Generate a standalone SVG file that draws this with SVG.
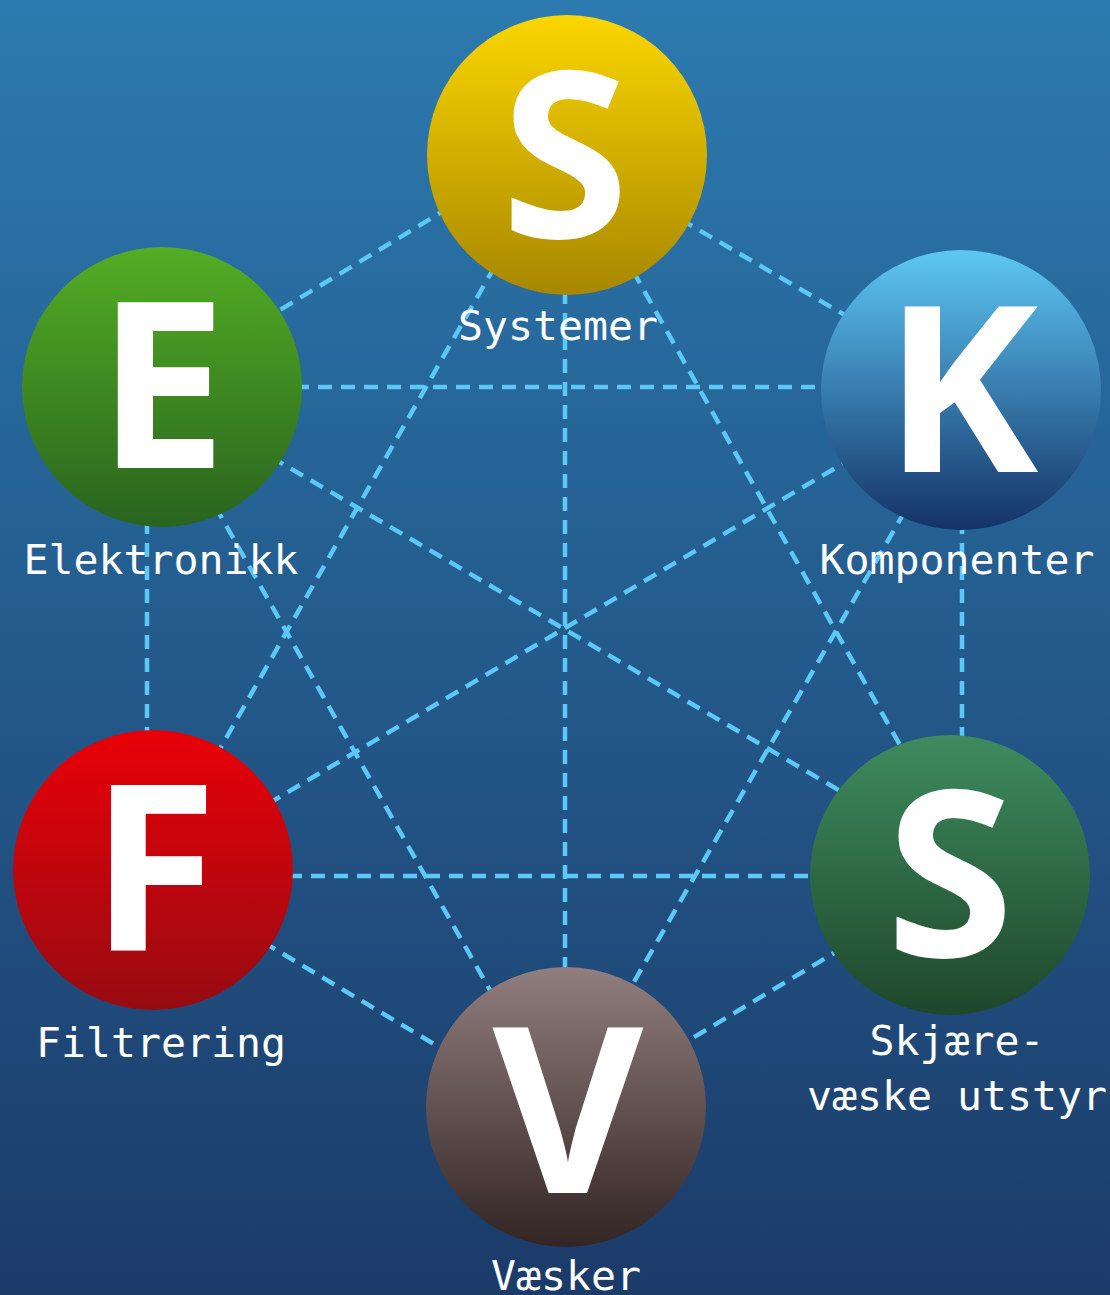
<svg xmlns="http://www.w3.org/2000/svg" width="1110" height="1295" viewBox="0 0 1110 1295">
<defs>
<linearGradient id="bg" x1="0" y1="0" x2="0" y2="1"><stop offset="0" stop-color="#2c7aaf"/><stop offset="1" stop-color="#1b3b69"/></linearGradient>
<linearGradient id="gS" x1="0" y1="0" x2="0" y2="1"><stop offset="0" stop-color="#fbd600"/><stop offset="1" stop-color="#a78700"/></linearGradient>
<linearGradient id="gE" x1="0" y1="0" x2="0" y2="1"><stop offset="0" stop-color="#53ad24"/><stop offset="1" stop-color="#29641f"/></linearGradient>
<linearGradient id="gK" x1="0" y1="0" x2="0" y2="1"><stop offset="0" stop-color="#5dc7f3"/><stop offset="1" stop-color="#143268"/></linearGradient>
<linearGradient id="gF" x1="0" y1="0" x2="0" y2="1"><stop offset="0" stop-color="#e90008"/><stop offset="1" stop-color="#970b12"/></linearGradient>
<linearGradient id="gG" x1="0" y1="0" x2="0" y2="1"><stop offset="0" stop-color="#3e8b5e"/><stop offset="1" stop-color="#1e472c"/></linearGradient>
<linearGradient id="gV" x1="0" y1="0" x2="0" y2="1"><stop offset="0" stop-color="#917e7e"/><stop offset="1" stop-color="#322523"/></linearGradient>
<style>
.c line{stroke:#5bc8f5;stroke-width:4.5;stroke-dasharray:14 9;fill:none}
.big{font-family:"Open Sans","Noto Sans","Liberation Sans",sans-serif;font-weight:bold;font-size:232px;fill:#ffffff;text-anchor:middle}
.lbl{font-family:"DejaVu Sans Mono","Liberation Mono",monospace;font-size:41.5px;fill:#ffffff;text-anchor:middle}
</style>
</defs>
<rect width="1110" height="1295" fill="url(#bg)"/>
<g id="connectors" class="c">
<line x1="450" y1="207" x2="270" y2="316"/>
<line x1="680" y1="219" x2="855" y2="321"/>
<line x1="565" y1="290" x2="565" y2="975"/>
<line x1="495" y1="266" x2="217" y2="754"/>
<line x1="633" y1="271" x2="905" y2="754"/>
<line x1="295" y1="387" x2="828" y2="387"/>
<line x1="271" y1="457" x2="847" y2="795"/>
<line x1="215" y1="506" x2="495" y2="999"/>
<line x1="147" y1="520" x2="147" y2="740"/>
<line x1="854" y1="457" x2="266" y2="805"/>
<line x1="905" y1="511" x2="627" y2="994"/>
<line x1="962" y1="520" x2="962" y2="745"/>
<line x1="288" y1="876" x2="818" y2="876"/>
<line x1="263" y1="942" x2="449" y2="1053"/>
<line x1="844" y1="947" x2="681" y2="1045"/>
</g>
<g id="node-systemer">
<circle cx="567" cy="155" r="140" fill="url(#gS)"/>
<text class="big" x="565" y="238">S</text>
<text class="lbl" x="558" y="340">Systemer</text>
</g>
<g id="node-elektronikk">
<circle cx="162" cy="387" r="140" fill="url(#gE)"/>
<text class="big" x="162" y="468">E</text>
<text class="lbl" x="161" y="574">Elektronikk</text>
</g>
<g id="node-komponenter">
<circle cx="961" cy="390" r="140" fill="url(#gK)"/>
<text class="big" x="961" y="472">K</text>
<text class="lbl" x="957" y="574">Komponenter</text>
</g>
<g id="node-filtrering">
<circle cx="153" cy="870" r="140" fill="url(#gF)"/>
<text class="big" x="154" y="950">F</text>
<text class="lbl" x="161" y="1057">Filtrering</text>
</g>
<g id="node-skjaerevaske">
<circle cx="950" cy="875" r="140" fill="url(#gG)"/>
<text class="big" x="950" y="957">S</text>
<text class="lbl" x="957" y="1055">Skjære-</text>
<text class="lbl" x="957" y="1110">væske utstyr</text>
</g>
<g id="node-vasker">
<circle cx="566" cy="1107" r="140" fill="url(#gV)"/>
<text class="big" x="568" y="1193">V</text>
<text class="lbl" x="566" y="1290">Væsker</text>
</g>
</svg>
